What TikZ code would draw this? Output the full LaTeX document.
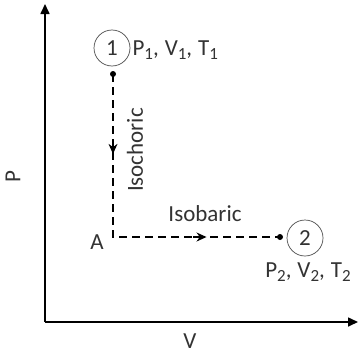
\documentclass[tikz,border=0pt]{standalone}
\usepackage{fontspec}
\setmainfont{Carlito}
\usetikzlibrary{calc,arrows.meta}

\definecolor{labelgray}{HTML}{333333}
\newcommand{\stsep}{,\hspace{6pt}}
\newcommand{\stidx}[1]{\raisebox{-4pt}{\fontsize{17}{17}\selectfont #1}}

\begin{document}
\begin{tikzpicture}[x=1pt, y=-1pt, >=Stealth, font=\fontsize{23}{26}\selectfont,
    axis/.style={line width=1.6pt, -{Triangle[length=10pt, width=9pt]}},
    process/.style={line width=1.4pt, dash pattern=on 8pt off 5pt},
    statecirc/.style={circle, draw=black!70, line width=0.7pt, minimum size=36pt, inner sep=0pt, text=labelgray},
    lbl/.style={text=labelgray, inner sep=1pt}]
  \useasboundingbox (0,0) rectangle (358,356);
  % ------------------------------------------------------------------ axes
  \coordinate (O) at (45,322);
  \coordinate (ytip) at (45,4);
  \coordinate (xtip) at (358,322);
  \draw[axis] (O) -- (ytip);
  \draw[axis] (O) -- (xtip);
  \node[lbl, rotate=90] (plbl) at (13,177) {P};
  \node[lbl] (vlbl) at (190,341) {V};
  % ------------------------------------------------------------------ the two states
  \node[statecirc] (s1) at (112,48) {1};
  \node[statecirc] (s2) at (305,238) {2};
  \node[lbl, anchor=west] (s1lbl) at ($(s1.east)+(1,2)$) {P\stidx{1}\stsep V\stidx{1}\stsep T\stidx{1}};
  \node[lbl, anchor=north] (s2lbl) at ($(s2.south)+(3,5)$) {P\stidx{2}\stsep V\stidx{2}\stsep T\stidx{2}};
  \coordinate (d1) at (113,74);
  \coordinate (A) at (113,237);
  \coordinate (d2) at (280,237);
  \fill (d1) circle (3pt);
  \fill (d2) circle (3pt);
  % ------------------------------------------------------------------ the path 1 -> A -> 2
  \draw[process] (d1) -- (A) -- (d2);
  \draw[line width=1.4pt, -{Stealth[length=10pt, width=9pt]}] ($(d1)!0.42!(A)$) -- ($(d1)!0.49!(A)$);
  \draw[line width=1.4pt, -{Stealth[length=10pt, width=9pt]}] ($(A)!0.48!(d2)$) -- ($(A)!0.56!(d2)$);
  \node[lbl] (alabel) at (97,242) {A};
  \node[lbl, rotate=90] (isoch) at (135,150) {Isochoric};
  \node[lbl] (isob) at (205,214) {Isobaric};
\end{tikzpicture}
\end{document}
